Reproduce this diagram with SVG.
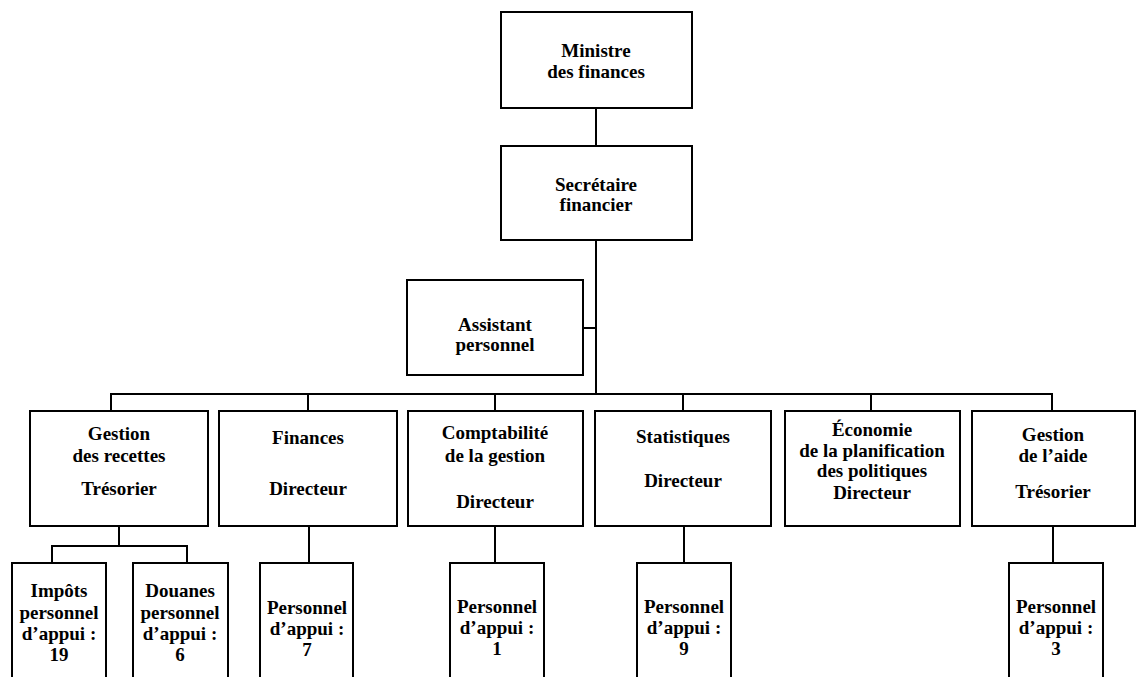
<svg xmlns="http://www.w3.org/2000/svg" width="1136" height="677" viewBox="0 0 1136 677">
<style>
rect{fill:#fff;stroke:#000;stroke-width:2}
.c path{fill:none;stroke:#000;stroke-width:2}
text{font-family:"Liberation Serif","Times New Roman",serif;font-weight:bold;font-size:19px;text-anchor:middle;fill:#000}
</style>
<rect x="0" y="0" width="1136" height="677" style="stroke:none"/>
<g class="c" id="connectors">
<path d="M596 108V146"/>
<path d="M596 240V394"/>
<path d="M583 328H596"/>
<path d="M111 411V394H1052V411"/>
<path d="M308 394V411"/>
<path d="M495 394V411"/>
<path d="M683 394V411"/>
<path d="M871 394V411"/>
<path d="M119 527V546"/>
<path d="M52 563V546H187V563"/>
<path d="M309 527V563"/>
<path d="M495 527V563"/>
<path d="M684 527V563"/>
<path d="M1053 527V563"/>
</g>
<g id="ministre"><rect x="501" y="12" width="191" height="96"/><text x="596" y="57">Ministre</text><text x="596" y="78">des finances</text></g>
<g id="secretaire"><rect x="501" y="146" width="191" height="94"/><text x="596" y="191">Secrétaire</text><text x="596" y="211">financier</text></g>
<g id="assistant"><rect x="407" y="280" width="176" height="95"/><text x="495" y="331">Assistant</text><text x="495" y="351">personnel</text></g>
<g id="gestion-recettes"><rect x="30" y="411" width="178" height="115"/><text x="119" y="440">Gestion</text><text x="119" y="462">des recettes</text><text x="119" y="495">Trésorier</text></g>
<g id="finances"><rect x="219" y="411" width="178" height="115"/><text x="308" y="444">Finances</text><text x="308" y="495">Directeur</text></g>
<g id="comptabilite"><rect x="408" y="411" width="175" height="115"/><text x="495" y="439">Comptabilité</text><text x="495" y="462">de la gestion</text><text x="495" y="508">Directeur</text></g>
<g id="statistiques"><rect x="595" y="411" width="176" height="115"/><text x="683" y="443">Statistiques</text><text x="683" y="487">Directeur</text></g>
<g id="economie"><rect x="785" y="411" width="175" height="115"/><text x="872" y="436">Économie</text><text x="872" y="457">de la planification</text><text x="872" y="477">des politiques</text><text x="872" y="499">Directeur</text></g>
<g id="gestion-aide"><rect x="972" y="411" width="163" height="115"/><text x="1053" y="441">Gestion</text><text x="1053" y="462">de l’aide</text><text x="1053" y="498">Trésorier</text></g>
<g id="impots"><rect x="12" y="563" width="94" height="130"/><text x="59" y="597">Impôts</text><text x="59" y="619">personnel</text><text x="59" y="640">d’appui :</text><text x="59" y="661">19</text></g>
<g id="douanes"><rect x="133" y="563" width="95" height="130"/><text x="180" y="597">Douanes</text><text x="180" y="619">personnel</text><text x="180" y="640">d’appui :</text><text x="180" y="661">6</text></g>
<g id="pers-finances"><rect x="260" y="563" width="93" height="130"/><text x="307" y="614">Personnel</text><text x="307" y="635">d’appui :</text><text x="307" y="656">7</text></g>
<g id="pers-comptabilite"><rect x="450" y="563" width="94" height="130"/><text x="497" y="613">Personnel</text><text x="497" y="634">d’appui :</text><text x="497" y="655">1</text></g>
<g id="pers-statistiques"><rect x="637" y="563" width="94" height="130"/><text x="684" y="613">Personnel</text><text x="684" y="634">d’appui :</text><text x="684" y="655">9</text></g>
<g id="pers-aide"><rect x="1009" y="563" width="94" height="130"/><text x="1056" y="613">Personnel</text><text x="1056" y="634">d’appui :</text><text x="1056" y="655">3</text></g>
</svg>
